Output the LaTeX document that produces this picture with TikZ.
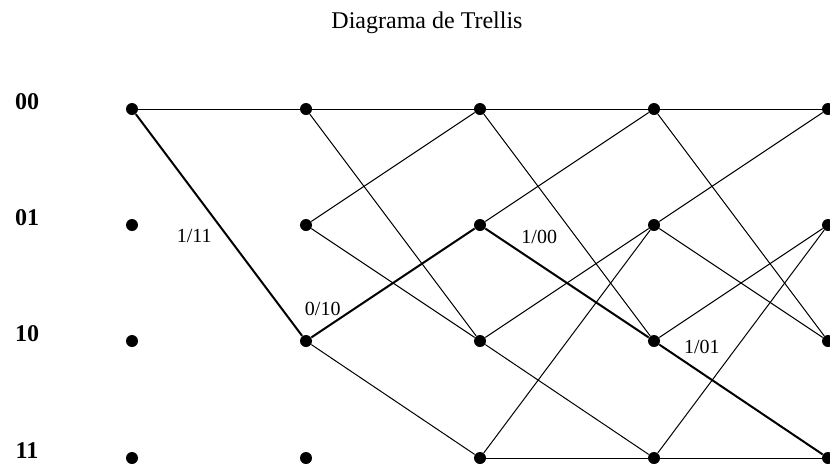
\documentclass[tikz,border=0pt]{standalone}
\usepackage{fontspec}
\setmainfont{Liberation Serif}
\usetikzlibrary{positioning}

\begin{document}
\begin{tikzpicture}[x=0.5pt, y=-0.5pt]

\tikzstyle{state} = [circle, fill=black, inner sep=0pt, minimum size=6pt];
\tikzstyle{tag} = [anchor=base, font=\large\bfseries];
\tikzstyle{branch} = [line width=0.5pt];
\tikzstyle{best} = [line width=1pt];
\tikzstyle{lbl} = [font=\normalsize];

\useasboundingbox (0,0) rectangle (830,467);

% Titulo
\node (title) [anchor=base, font=\large] at (427,28) {Diagrama de Trellis};

% Estados
\node (t00) [tag] at (27,109) {00};
\node (t01) [tag] at (27,225) {01};
\node (t10) [tag] at (27,341) {10};
\node (t11) [tag] at (27,458) {11};

% Columna 0
\node (a00) [state] at (132,109) {};
\node (a01) [state] at (132,225) {};
\node (a10) [state] at (132,341) {};
\node (a11) [state] at (132,458) {};

% Columna 1
\node (b00) [state] at (306,109) {};
\node (b01) [state] at (306,225) {};
\node (b10) [state] at (306,341) {};
\node (b11) [state] at (306,458) {};

% Columna 2
\node (c00) [state] at (480,109) {};
\node (c01) [state] at (480,225) {};
\node (c10) [state] at (480,341) {};
\node (c11) [state] at (480,458) {};

% Columna 3
\node (d00) [state] at (654,109) {};
\node (d01) [state] at (654,225) {};
\node (d10) [state] at (654,341) {};
\node (d11) [state] at (654,458) {};

% Columna 4
\node (e00) [state] at (828,109) {};
\node (e01) [state] at (828,225) {};
\node (e10) [state] at (828,341) {};
\node (e11) [state] at (828,458) {};

% Transiciones 0 -> 1
\draw[branch] (a00) -- (b00);
\draw[best] (a00) -- node[lbl, pos=0.55, left=4pt] {1/11} (b10);

% Transiciones 1 -> 2
\draw[branch] (b00) -- (c00);
\draw[branch] (b00) -- (c10);
\draw[branch] (b01) -- (c00);
\draw[branch] (b01) -- (c10);
\draw[best] (b10) -- node[lbl, pos=0.07, above=3pt] {0/10} (c01);
\draw[branch] (b10) -- (c11);

% Transiciones 2 -> 3
\draw[branch] (c00) -- (d00);
\draw[branch] (c00) -- (d10);
\draw[branch] (c01) -- (d00);
\draw[best] (c01) -- node[lbl, pos=0.33, above=6.5pt] {1/00} (d10);
\draw[branch] (c10) -- (d01);
\draw[branch] (c10) -- (d11);
\draw[branch] (c11) -- (d01);
\draw[branch] (c11) -- (d11);

% Transiciones 3 -> 4
\draw[branch] (d00) -- (e00);
\draw[branch] (d00) -- (e10);
\draw[branch] (d01) -- (e00);
\draw[branch] (d01) -- (e10);
\draw[branch] (d10) -- (e01);
\draw[best] (d10) -- node[lbl, pos=0.26, above=5.8pt] {1/01} (e11);
\draw[branch] (d11) -- (e01);
\draw[branch] (d11) -- (e11);

\end{tikzpicture}
\end{document}
